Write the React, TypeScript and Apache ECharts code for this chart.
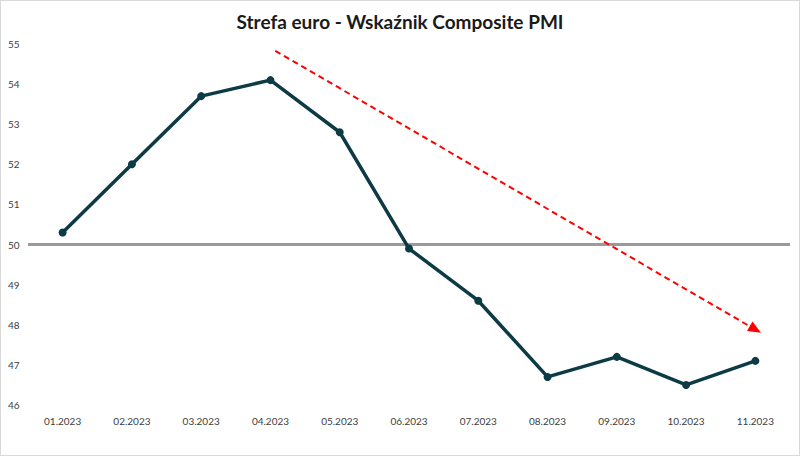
import React, { useEffect, useRef } from "react";
import * as echarts from "echarts";

const categories = ["01.2023", "02.2023", "03.2023", "04.2023", "05.2023", "06.2023", "07.2023", "08.2023", "09.2023", "10.2023", "11.2023"];
const pmiValues = [50.3, 52.0, 53.7, 54.1, 52.8, 49.9, 48.6, 46.7, 47.2, 46.5, 47.1];
const thresholdValue = 50;
// trend arrow endpoints: [category position, value]
const trendStart = [3.07, 54.83];
const trendEnd = [10.0, 47.88];

export default function App() {
  const ref = useRef<HTMLDivElement>(null);
  useEffect(() => {
    document.body.style.margin = "0";
    const chart = echarts.init(ref.current!, null, { renderer: "svg" });
    chart.setOption({
      animation: false,
      backgroundColor: "#ffffff",
      title: {
        text: "Strefa euro - Wskaźnik Composite PMI",
        left: "center",
        top: 6,
        textStyle: { fontFamily: "Lato", fontWeight: "bold", fontSize: 19, color: "#1a1a1a" },
      },
      grid: { left: 27, right: 9, top: 43, bottom: 50 },
      xAxis: [
        {
          type: "category",
          data: categories,
          boundaryGap: true,
          axisLine: { show: false },
          axisTick: { show: false },
          axisLabel: { color: "#404040", fontFamily: "Lato", fontSize: 10, margin: 11 },
        },
        {
          type: "value",
          min: -0.5,
          max: 10.5,
          show: false,
        },
      ],
      yAxis: {
        type: "value",
        min: 46,
        max: 55,
        interval: 1,
        splitLine: { show: false },
        axisLine: { show: false },
        axisTick: { show: false },
        axisLabel: { color: "#404040", fontFamily: "Lato", fontSize: 10, align: "left", margin: 20 },
      },
      series: [
        {
          type: "line",
          data: pmiValues,
          symbol: "circle",
          symbolSize: 8,
          lineStyle: { color: "#0d3b45", width: 3.5 },
          itemStyle: { color: "#0d3b45" },
          z: 3,
          markLine: {
            silent: true,
            symbol: ["none", "none"],
            label: { show: false },
            lineStyle: { color: "#9a9a9a", width: 3, type: "solid" },
            data: [{ yAxis: thresholdValue }],
            z: 2,
          },
        },
        {
          type: "line",
          xAxisIndex: 1,
          data: [trendStart, trendEnd],
          symbol: "none",
          lineStyle: { opacity: 0 },
          markLine: {
            silent: true,
            symbol: ["none", "triangle"],
            symbolSize: [11, 13],
            label: { show: false },
            lineStyle: { color: "#ff0000", width: 2, type: [6, 4] },
            itemStyle: { color: "#ff0000" },
            data: [[{ coord: trendStart }, { coord: trendEnd }]],
          },
        },
      ],
    });
    return () => chart.dispose();
  }, []);
  return (
    <div
      ref={ref}
      style={{ width: 800, height: 456, boxSizing: "border-box", border: "1px solid #d9d9d9" }}
    />
  );
}
